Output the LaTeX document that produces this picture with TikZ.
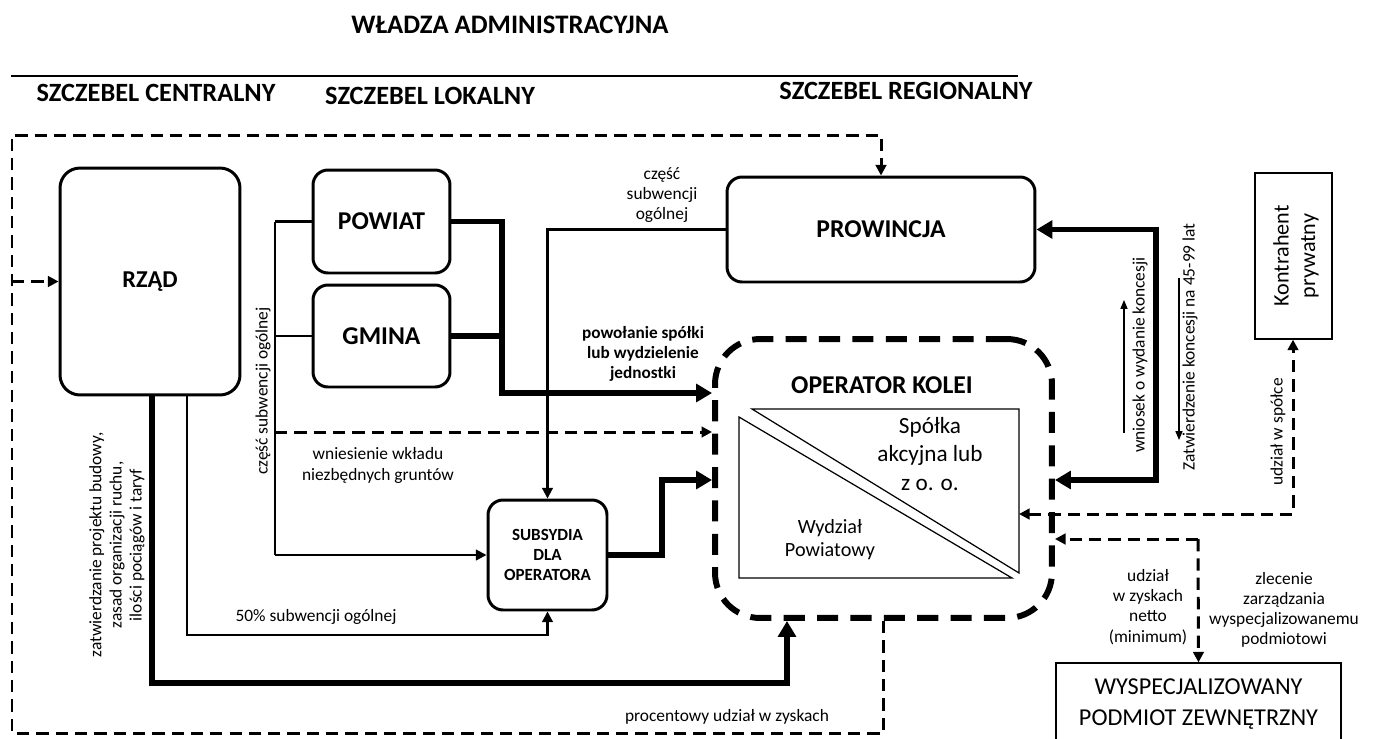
\documentclass[tikz,border=0pt]{standalone}
\usepackage{fontspec}
\setmainfont{Carlito}
\usetikzlibrary{arrows.meta}

\begin{document}
\begin{tikzpicture}[x=0.02cm,y=-0.02cm,
  box/.style={draw, line width=1.7pt, rounded corners=0.3cm, inner sep=0pt,
    align=center, font=\bfseries\fontsize{14.6}{17}\selectfont},
  plainbox/.style={draw, line width=0.7pt, inner sep=0pt, align=center},
  opbox/.style={draw, line width=3.4pt, rounded corners=0.9cm, inner sep=0pt,
    dash pattern=on 12pt off 7pt},
  head/.style={font=\bfseries\fontsize{15}{18}\selectfont, inner sep=0pt},
  lbl/.style={font=\fontsize{9.9}{11.5}\selectfont, align=center, inner sep=0pt},
  blbl/.style={font=\bfseries\fontsize{9.8}{11.3}\selectfont, align=center, inner sep=0pt},
  link/.style={line width=1.2pt},
  heavy/.style={line width=3.4pt},
  frame/.style={line width=1.7pt, dash pattern=on 7pt off 4pt},
  tipS/.style={-{Triangle[length=6pt,width=6pt]}},
  tipH/.style={-{Triangle[length=9pt,width=10pt]}},
  tipHH/.style={{Triangle[length=9pt,width=10pt]}-{Triangle[length=9pt,width=10pt]}},
  tipSS/.style={{Triangle[length=6pt,width=6pt]}-{Triangle[length=6pt,width=6pt]}},
  tipT/.style={-{Triangle[length=5pt,width=4pt]}}
]
\useasboundingbox (0,0) rectangle (1373,738);

% headings
\node[head, font=\bfseries\fontsize{15.2}{18}\selectfont] (title) at (510,25) {WŁADZA ADMINISTRACYJNA};
\coordinate (ruleL) at (11,76);
\coordinate (ruleR) at (1018,76);
\draw[line width=1.1pt] (ruleL) -- (ruleR);
\node[head] (hc) at (156,93) {SZCZEBEL CENTRALNY};
\node[head] (hl) at (430,96) {SZCZEBEL LOKALNY};
\node[head] (hr) at (906,91) {SZCZEBEL REGIONALNY};

% main boxes
\node[box, rounded corners=0.4cm, minimum width=3.6cm, minimum height=4.54cm,
      font=\bfseries\fontsize{13.8}{16}\selectfont] (rzad) at (150,281.5) {RZĄD};
\node[box, minimum width=2.74cm, minimum height=2.06cm] (pow) at (381.5,221.5) {POWIAT};
\node[box, minimum width=2.74cm, minimum height=2.04cm] (gmi) at (381.5,336) {GMINA};
\node[box, minimum width=6.16cm, minimum height=2.1cm] (prow) at (881,229.5) {PROWINCJA};
\node[box, minimum width=2.38cm, minimum height=2.2cm,
      font=\bfseries\fontsize{9.7}{11.5}\selectfont] (sub) at (547.5,555) {SUBSYDIA\\DLA\\OPERATORA};
\node[opbox, minimum width=6.74cm, minimum height=5.58cm] (op) at (883.5,478.5) {};
\node[box, draw=none] (optitle) at (882,385) {OPERATOR KOLEI};
\node[plainbox, minimum width=1.54cm, minimum height=3.32cm] (kon) at (1293.5,256) {};
\node[rotate=90, align=center, inner sep=0pt, font=\fontsize{12.6}{15}\selectfont] (kontxt) at (1296,256) {Kontrahent\\prywatny};
\node[plainbox, minimum width=5.7cm, minimum height=1.64cm, font=\fontsize{13.8}{18}\selectfont] (wys) at (1198.5,704) {WYSPECJALIZOWANY\\PODMIOT ZEWNĘTRZNY};

% split company / district unit inside the operator
\draw[line width=0.7pt] (739,417) -- (739,578) -- (1012,578) -- cycle;
\draw[line width=0.7pt] (752,409) -- (1019,409) -- (1019,573) -- cycle;
\node[lbl, font=\fontsize{13.2}{16}\selectfont] (spolka) at (930,454) {Spółka\\akcyjna lub\\z o. o.};
\node[lbl, font=\fontsize{11.5}{13}\selectfont] (wydz) at (830,540) {Wydział\\Powiatowy};

% outer dashed frame
\coordinate (fbl) at (12,733);
\coordinate (ftl) at (12,135);
\draw[frame, tipS] (op.south) -- (op.south |- fbl) -- (fbl) -- (ftl) -- (ftl -| prow.north) -- (prow.north);
\draw[frame, tipS] (ftl |- rzad.west) -- (rzad.west);
\node[lbl] (proc) at (727,717) {procentowy udział w zyskach};

% government connections
\coordinate (r1) at (152,683);
\coordinate (k1) at (787,683);
\draw[heavy, tipH] (rzad.south -| r1) -- (r1) -- (k1) -- (k1 |- op.south);
\coordinate (k2) at (187,635);
\draw[link, tipS] (rzad.south -| k2) -- (k2) -- (k2 -| sub.south) -- (sub.south);
\node[lbl] (pct) at (316,617) {50\% subwencji ogólnej};
\node[lbl, rotate=90] (zatw) at (117,545) {zatwierdzanie projektu budowy,\\zasad organizacji ruchu,\\ilości pociągów i taryf};

% local level bus
\coordinate (k3) at (275,555);
\draw[link] (k3 |- pow.west) -- (k3);
\draw[link] (k3 |- pow.west) -- (pow.west);
\draw[link] (k3 |- gmi.west) -- (gmi.west);
\draw[link, tipS] (k3) -- (sub.west);
\node[lbl, rotate=90] (csc) at (263,391) {część subwencji ogólnej};
\coordinate (d1) at (275,432);
\draw[frame, tipS] (d1) -- (d1 -| op.west);
\node[lbl, font=\fontsize{9.9}{12}\selectfont] (wnies) at (378,465) {wniesienie wkładu\\niezbędnych gruntów};

% company formation
\coordinate (k4) at (502,393);
\draw[heavy, tipH] (pow.east) -| (k4) -- (k4 -| op.west);
\draw[heavy] (gmi.east) -- (gmi.east -| k4);
\node[blbl] (powol) at (643,354) {powołanie spółki\\lub wydzielenie\\jednostki};

% province subsidy
\draw[link, tipS] (prow.west) -| (sub.north);
\node[lbl] (csc2) at (662,195) {część\\subwencji\\ogólnej};

% subsidies to operator
\coordinate (k5) at (662,480);
\draw[heavy, tipH] (sub.east) -| (k5) -- (k5 -| op.west);

% concession
\coordinate (k7) at (1156,480);
\draw[heavy, tipHH] (op.east |- k7) -- (k7) -- (k7 |- prow.east) -- (prow.east);
\coordinate (w1) at (1124,433);
\coordinate (w2) at (1124,300);
\draw[line width=0.6pt, tipT] (w1) -- (w2);
\node[lbl, rotate=90] (wniosek) at (1140,355) {wniosek o wydanie koncesji};
\coordinate (z1) at (1179,278);
\coordinate (z2) at (1179,440);
\draw[line width=0.6pt, tipT] (z1) -- (z2);
\node[lbl, rotate=90] (zatwk) at (1190,347) {Zatwierdzenie koncesji na 45-99 lat};

% private partner
\coordinate (k8) at (1293,514);
\coordinate (ine) at (1019,514);
\draw[frame, tipSS] (ine) -- (k8) -- (k8 |- kon.south);
\node[lbl, rotate=90] (uds) at (1278,432) {udział w spółce};

% specialised external operator
\coordinate (k9) at (1198,539);
\draw[frame, tipS] (k9) -- (k9 -| op.east);
\draw[frame, tipS] (k9) -- (wys.north);
\node[lbl] (udz) at (1148,607) {udział\\w zyskach\\netto\\(minimum)};
\node[lbl] (zlec) at (1284,610) {zlecenie\\zarządzania\\wyspecjalizowanemu\\podmiotowi};
\end{tikzpicture}
\end{document}
